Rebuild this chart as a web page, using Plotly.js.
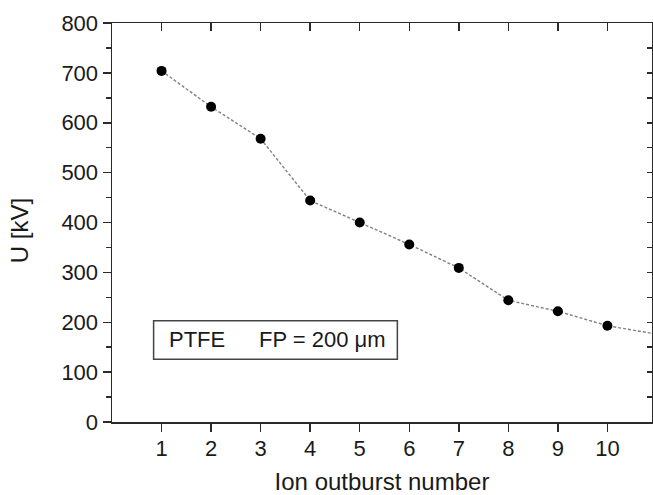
<!DOCTYPE html>
<html>
<head>
<meta charset="utf-8">
<script src="https://cdn.plot.ly/plotly-3.0.1.min.js"></script>
<style>html,body{margin:0;padding:0;background:#fff;}#chart{width:653px;height:495px;}</style>
</head>
<body>
<div id="chart"></div>
<script>
// Data
const outburst = [1, 2, 3, 4, 5, 6, 7, 8, 9, 10, 11];
const voltage = [704, 632, 568, 444, 400, 356, 309, 244, 222, 193, 176];
const xTicks = [1, 2, 3, 4, 5, 6, 7, 8, 9, 10];
const xTitle = 'Ion outburst number';
const yTitle = 'U [kV]';
const labelMaterial = 'PTFE';
const labelFP = 'FP = 200 μm';

const FONT = 'Arial, "Liberation Sans", Helvetica, sans-serif';
const AX = '#2a2a2a';

const traces = [
  {
    x: outburst, y: voltage, type: 'scatter', mode: 'lines+markers',
    line: {color: '#808080', width: 1.4, dash: '3px,2px'},
    marker: {color: '#000', size: 10},
    cliponaxis: true, hoverinfo: 'skip', showlegend: false
  },
  {
    x: outburst, y: voltage, type: 'scatter', mode: 'markers', xaxis: 'x2', yaxis: 'y2',
    marker: {opacity: 0}, hoverinfo: 'skip', showlegend: false
  }
];

const layout = {
  width: 653, height: 495,
  margin: {l: 112, r: 1, t: 23, b: 73},
  paper_bgcolor: '#fff', plot_bgcolor: '#fff',
  font: {family: FONT, size: 22, color: '#1a1a1a'},
  showlegend: false,
  xaxis: {
    range: [0, 10.9], tickvals: xTicks, ticks: 'outside', ticklen: 8, tickwidth: 1.5, tickcolor: AX,
    showline: true, linecolor: AX, linewidth: 1.5, showgrid: false, zeroline: false,
    tickfont: {size: 22}, ticklabelstandoff: -2,
    title: {text: xTitle, font: {size: 24}, standoff: 17}
  },
  yaxis: {
    range: [0, 800], dtick: 100, ticks: 'outside', ticklen: 8, tickwidth: 1.5, tickcolor: AX,
    minor: {dtick: 50, ticks: 'outside', ticklen: 5, tickwidth: 1.5, tickcolor: AX, showgrid: false},
    showline: true, linecolor: AX, linewidth: 1.5, showgrid: false, zeroline: false,
    tickfont: {size: 22},
    title: {text: ''}
  },
  xaxis2: {
    overlaying: 'x', side: 'top', range: [0, 10.9], tickvals: xTicks, ticks: 'inside', ticklen: 8,
    tickwidth: 1.5, tickcolor: AX, showticklabels: false, showline: true, linecolor: AX, linewidth: 1.5,
    showgrid: false, zeroline: false
  },
  yaxis2: {
    overlaying: 'y', side: 'right', range: [0, 800], dtick: 50, ticks: 'inside', ticklen: 5,
    tickwidth: 1.5, tickcolor: AX, showticklabels: false, showline: true, linecolor: AX, linewidth: 1.5,
    showgrid: false, zeroline: false
  },
  shapes: [
    {type: 'rect', xref: 'x', yref: 'y', x0: 0.84, x1: 5.76, y0: 126, y1: 203,
     line: {color: '#444', width: 1.5}, fillcolor: 'rgba(0,0,0,0)'}
  ],
  annotations: [
    {xref: 'paper', yref: 'paper', x: -0.171, y: 0.48, xanchor: 'center', yanchor: 'middle',
     text: yTitle, textangle: -90, showarrow: false, font: {size: 24, color: '#1a1a1a'}},
    {xref: 'x', yref: 'y', x: 1.1, y: 165, xanchor: 'left', yanchor: 'middle', text: labelMaterial,
     showarrow: false, font: {size: 22, color: '#1a1a1a'}},
    {xref: 'x', yref: 'y', x: 2.93, y: 165, xanchor: 'left', yanchor: 'middle', text: labelFP,
     showarrow: false, font: {size: 22, color: '#1a1a1a'}}
  ]
};

Plotly.newPlot('chart', traces, layout, {staticPlot: true, displayModeBar: false});
</script>
</body>
</html>
